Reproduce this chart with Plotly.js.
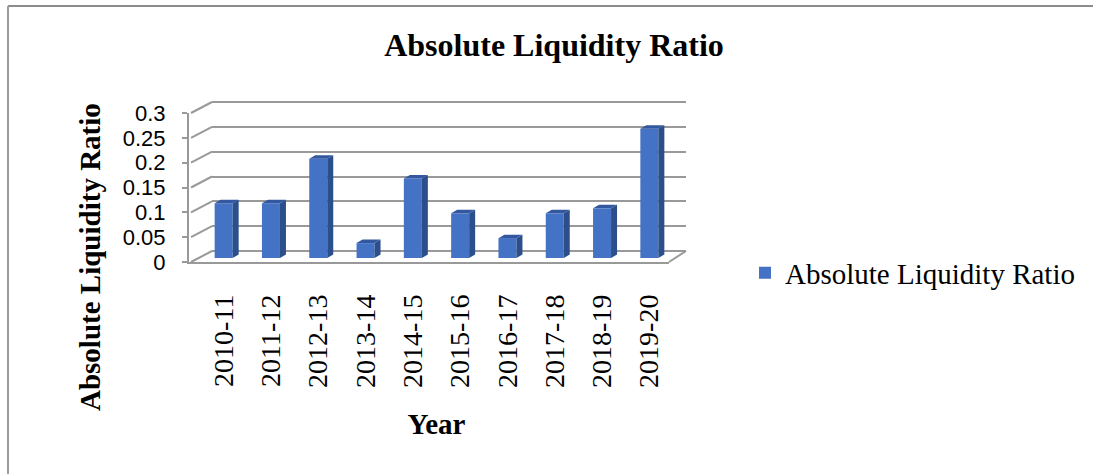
<!DOCTYPE html>
<html>
<head>
<meta charset="utf-8">
<script src="https://cdn.plot.ly/plotly-3.0.1.min.js"></script>
<style>html,body{margin:0;padding:0;background:#fff;}#chart{width:1093px;height:474px;}</style>
</head>
<body>
<div id="chart"></div>
<script>
// ---- data ----
const years = ['2010-11','2011-12','2012-13','2013-14','2014-15','2015-16','2016-17','2017-18','2018-19','2019-20'];
const ratios = [0.11, 0.11, 0.20, 0.03, 0.16, 0.09, 0.04, 0.09, 0.10, 0.26];
const yTicks = [0, 0.05, 0.1, 0.15, 0.2, 0.25, 0.3];
const seriesName = 'Absolute Liquidity Ratio';

// ---- geometry (pixels in a 1093x474 page) ----
const W = 1093, H = 474;
const fx = p => p / W, fy = p => 1 - p / H;
const yMax = 0.3;
const back  = {x0: 212, x1: 686, yb: 251, yt: 102};
const front = {x0: 189, x1: 669, yb: 262, yt: 113};
const mid   = {x0: 200, x1: 673, yb: 258, yt: 109};

const gridColor = '#999999';
const barColor = '#4472C4', sideColor = '#2c4f8c', topColor = '#3358a0';

// 3D extrusion in data units of the bar plane
const pitch = (mid.x1 - mid.x0) / years.length;
const hw = (18 / pitch) / 2;
const dx = 6 / pitch;
const dy = 3.5 / ((mid.yb - mid.yt) / yMax);

const idx = years.map((_, i) => i);
const sideX = [], sideY = [], topX = [], topY = [];
idx.forEach(i => {
  const v = ratios[i];
  sideX.push(i + hw, i + hw + dx, i + hw + dx, i + hw, i + hw, null);
  sideY.push(0, dy, v + dy, v, 0, null);
  topX.push(i - hw, i + hw, i + hw + dx, i - hw + dx, i - hw, null);
  topY.push(v, v, v + dy, v + dy, v, null);
});

const traces = [
  {x: [0], y: [0], xaxis: 'x', yaxis: 'y', type: 'scatter', mode: 'none', showlegend: false, hoverinfo: 'skip'},
  {x: [0], y: [0], xaxis: 'x2', yaxis: 'y2', type: 'scatter', mode: 'none', showlegend: false, hoverinfo: 'skip'},
  {x: idx, y: ratios, type: 'bar', name: seriesName, width: 2 * hw,
   marker: {color: barColor, line: {width: 0}}, xaxis: 'x3', yaxis: 'y3', showlegend: true},
  {x: sideX, y: sideY, type: 'scatter', mode: 'lines', fill: 'toself', fillcolor: sideColor,
   line: {width: 0, color: sideColor}, xaxis: 'x3', yaxis: 'y3', showlegend: false, hoverinfo: 'skip'},
  {x: topX, y: topY, type: 'scatter', mode: 'lines', fill: 'toself', fillcolor: topColor,
   line: {width: 0, color: topColor}, xaxis: 'x3', yaxis: 'y3', showlegend: false, hoverinfo: 'skip'}
];

// perspective connectors from front axis ticks to the back wall
const fyFront = v => front.yb - v / yMax * (front.yb - front.yt);
const fyBack  = v => back.yb - v / yMax * (back.yb - back.yt);
const shapes = yTicks.map(v => ({
  type: 'line', xref: 'paper', yref: 'paper', layer: 'below',
  x0: fx(front.x0 + 2), y0: fy(fyFront(v)), x1: fx(back.x0), y1: fy(fyBack(v)),
  line: {color: gridColor, width: 2}
}));
shapes.push({type: 'line', xref: 'paper', yref: 'paper', layer: 'below',
  x0: fx(front.x1), y0: fy(front.yb), x1: fx(back.x1), y1: fy(back.yb),
  line: {color: gridColor, width: 2}});
// chart-area frame (top and left edges visible)
shapes.push({type: 'line', xref: 'paper', yref: 'paper', x0: fx(8), y0: fy(6), x1: 1, y1: fy(6), line: {color: '#8c8c8c', width: 2}});
shapes.push({type: 'line', xref: 'paper', yref: 'paper', x0: fx(8), y0: fy(6), x1: fx(8), y1: 0, line: {color: '#9a9a9a', width: 2}});

// back wall axis padded so the edge gridlines (0 and 0.3) are drawn
const pad = 0.01;
const padPx = pad / yMax * (back.yb - back.yt);

const serif = 'Liberation Serif, Times New Roman, serif';
const layout = {
  width: W, height: H,
  margin: {l: 0, r: 0, t: 0, b: 0},
  paper_bgcolor: '#ffffff', plot_bgcolor: 'rgba(0,0,0,0)',
  showlegend: true,
  title: {text: '<b>Absolute Liquidity Ratio</b>', font: {family: serif, size: 32, color: '#000'},
          x: fx(554), xanchor: 'center', xref: 'paper', y: fy(45), yanchor: 'middle', yref: 'paper'},
  // back wall (gridlines)
  xaxis: {domain: [fx(back.x0), fx(back.x1)], range: [-0.5, years.length - 0.5], anchor: 'y',
          showgrid: false, zeroline: false, showline: false, showticklabels: false, ticks: '', fixedrange: true},
  yaxis: {domain: [fy(back.yb + padPx), fy(back.yt - padPx)], range: [-pad, yMax + pad], anchor: 'x',
          tickvals: yTicks, showgrid: true, gridcolor: gridColor, gridwidth: 2,
          zeroline: false, showline: false, showticklabels: false, ticks: '', fixedrange: true},
  // front axes
  xaxis2: {domain: [fx(front.x0), fx(front.x1)], range: [-0.5, years.length - 0.5], anchor: 'y2',
           showgrid: false, zeroline: false, showline: true, linecolor: gridColor, linewidth: 2,
           showticklabels: false, ticks: '', fixedrange: true},
  yaxis2: {domain: [fy(front.yb), fy(front.yt)], range: [0, yMax], anchor: 'x2',
           tickvals: yTicks, ticktext: yTicks.map(v => String(v)),
           showgrid: false, zeroline: false, showline: true, linecolor: gridColor, linewidth: 2,
           ticks: 'outside', ticklen: 5, tickcolor: gridColor, tickwidth: 2, ticklabelstandoff: 12,
           tickfont: {family: 'Liberation Sans, Arial, sans-serif', size: 22, color: '#000'},
           fixedrange: true},
  // bar plane
  xaxis3: {domain: [fx(mid.x0), fx(mid.x1)], range: [-0.5, years.length - 0.5], anchor: 'y3',
           tickvals: idx, ticktext: years, tickangle: -90, ticks: '', ticklabelstandoff: 30,
           tickfont: {family: serif, size: 28, color: '#000'},
           showgrid: false, zeroline: false, showline: false,
           title: {text: '<b>Year</b>', font: {family: serif, size: 29, color: '#000'}, standoff: 26},
           fixedrange: true},
  yaxis3: {domain: [fy(mid.yb), fy(mid.yt)], range: [0, yMax], anchor: 'x3',
           showgrid: false, zeroline: false, showline: false, showticklabels: false, ticks: '', fixedrange: true},
  legend: {x: fx(745), xanchor: 'left', y: fy(273), yanchor: 'middle', bgcolor: 'rgba(0,0,0,0)',
           font: {family: serif, size: 29, color: '#000'}},
  annotations: [
    {text: '<b>Absolute Liquidity Ratio</b>', textangle: -90, showarrow: false,
     xref: 'paper', yref: 'paper', x: fx(90), y: fy(257), xanchor: 'center', yanchor: 'middle',
     font: {family: serif, size: 29, color: '#000'}}
  ],
  shapes: shapes
};

Plotly.newPlot('chart', traces, layout, {staticPlot: true, displayModeBar: false});
</script>
</body>
</html>
